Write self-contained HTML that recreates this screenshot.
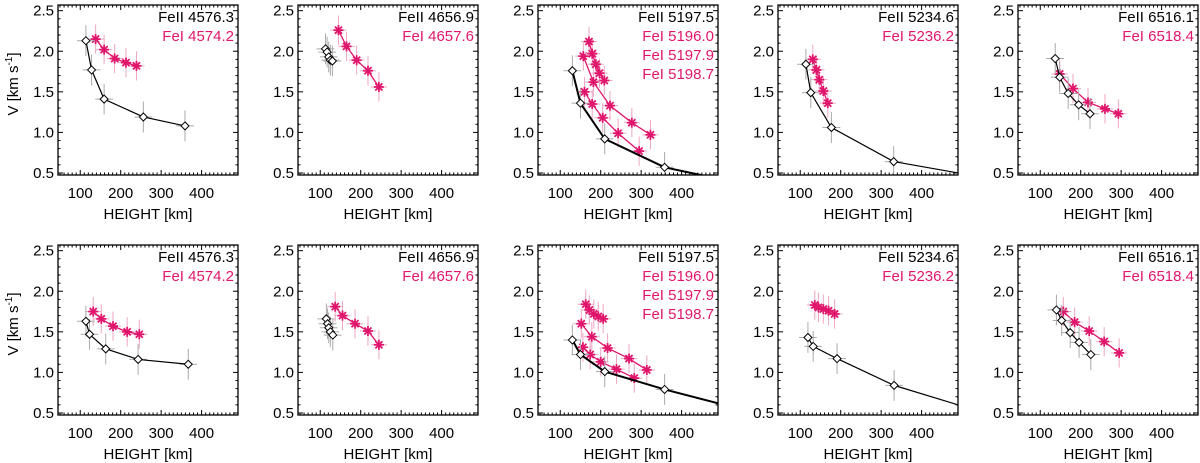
<!DOCTYPE html>
<html><head><meta charset="utf-8"><style>
body{margin:0;background:#fff;}
svg{display:block;font-family:"Liberation Sans",sans-serif;}
</style></head><body>
<svg id="fig" width="1200" height="463" viewBox="0 0 1200 463" xmlns="http://www.w3.org/2000/svg"></svg>
<script>
// ---- data (height km, velocity km/s) ----
const p1tBlackH=[114,128,159,256,359], p1tBlackV=[2.13,1.77,1.41,1.19,1.08];
const p1tPinkH=[138,159,185,213,239], p1tPinkV=[2.15,2.02,1.91,1.86,1.82];
const p2tBlackH=[113,117,121,125,130], p2tBlackV=[2.03,1.99,1.93,1.89,1.88];
const p2tPinkH=[145,165,190,218,245], p2tPinkV=[2.26,2.06,1.89,1.76,1.56];
const p3tBlackH=[130,150,210,358,490], p3tBlackV=[1.76,1.36,0.92,0.57,0.43];
const p3tPinkAH=[157,182,223,277,323], p3tPinkAV=[1.94,1.62,1.33,1.12,0.97];
const p3tPinkBH=[160,179,205,243,295], p3tPinkBV=[1.50,1.35,1.18,0.99,0.77];
const p3tPinkCH=[171,179,188,197,209], p3tPinkCV=[2.12,1.97,1.84,1.73,1.64];
const p4tBlackH=[114,126,177,331,490], p4tBlackV=[1.84,1.49,1.06,0.64,0.50];
const p4tPinkH=[131,140,147,157,168], p4tPinkV=[1.90,1.77,1.65,1.51,1.36];
const p5tBlackH=[137,148,169,195,223], p5tBlackV=[1.91,1.68,1.48,1.34,1.23];
const p5tPinkH=[148,181,218,260,293], p5tPinkV=[1.72,1.54,1.37,1.29,1.23];
const p1bBlackH=[114,123,163,243,367], p1bBlackV=[1.63,1.47,1.29,1.16,1.10];
const p1bPinkH=[132,152,181,216,246], p1bPinkV=[1.75,1.66,1.57,1.50,1.47];
const p2bBlackH=[115,118,121,125,131], p2bBlackV=[1.66,1.60,1.55,1.50,1.46];
const p2bPinkH=[137,155,186,218,245], p2bPinkV=[1.81,1.70,1.60,1.51,1.34];
const p3bBlackH=[130,150,210,358,490], p3bBlackV=[1.40,1.22,1.01,0.79,0.62];
const p3bPinkAH=[152,178,217,270,314], p3bPinkAV=[1.60,1.44,1.30,1.17,1.03];
const p3bPinkBH=[156,174,200,239,283], p3bPinkBV=[1.31,1.22,1.13,1.04,0.93];
const p3bPinkCH=[163,172,183,194,206], p3bPinkCV=[1.84,1.77,1.72,1.69,1.66];
const p4bBlackH=[119,132,191,332,490], p4bBlackV=[1.43,1.32,1.17,0.84,0.60];
const p4bPinkH=[136,145,157,170,185], p4bPinkV=[1.83,1.80,1.78,1.76,1.72];
const p5bBlackH=[140,153,174,196,225], p5bBlackV=[1.77,1.64,1.49,1.37,1.22];
const p5bPinkH=[157,185,221,258,295], p5bPinkV=[1.75,1.62,1.51,1.38,1.24];
const xTicks=[100,200,300,400];
const yTicks=[0.5,1.0,1.5,2.0,2.5];
const legends=[["4576.3","4574.2"],["4656.9","4657.6"],["5197.5","5196.0","5197.9","5198.7"],["5234.6","5236.2"],["6516.1","6518.4"]];

const PINK="#e0166c", PINKE="#eea6c4", GREYE="#aaaaaa";
const XMIN=45,XMAX=490,YMIN=0.475,YMAX=2.57,W=180,H=170;
const svg=document.getElementById('fig');
const NS="http://www.w3.org/2000/svg";
function mk(t,a,p){const e=document.createElementNS(NS,t);for(const k in a)e.setAttribute(k,a[k]);(p||svg).appendChild(e);return e;}

const panels=[
 {b:[p1tBlackH,p1tBlackV],p:[[p1tPinkH,p1tPinkV]]},
 {b:[p2tBlackH,p2tBlackV],p:[[p2tPinkH,p2tPinkV]]},
 {b:[p3tBlackH,p3tBlackV],p:[[p3tPinkAH,p3tPinkAV],[p3tPinkBH,p3tPinkBV],[p3tPinkCH,p3tPinkCV]],thick:true},
 {b:[p4tBlackH,p4tBlackV],p:[[p4tPinkH,p4tPinkV]]},
 {b:[p5tBlackH,p5tBlackV],p:[[p5tPinkH,p5tPinkV]]},
 {b:[p1bBlackH,p1bBlackV],p:[[p1bPinkH,p1bPinkV]]},
 {b:[p2bBlackH,p2bBlackV],p:[[p2bPinkH,p2bPinkV]]},
 {b:[p3bBlackH,p3bBlackV],p:[[p3bPinkAH,p3bPinkAV],[p3bPinkBH,p3bPinkBV],[p3bPinkCH,p3bPinkCV]],thick:true},
 {b:[p4bBlackH,p4bBlackV],p:[[p4bPinkH,p4bPinkV]],noPinkLine:true},
 {b:[p5bBlackH,p5bBlackV],p:[[p5bPinkH,p5bPinkV]]}
];

panels.forEach((pd,idx)=>{
 const col=idx%5,row=Math.floor(idx/5);
 const L=58+240*col,T=5+240*row;
 const xs=h=>L+(h-XMIN)/(XMAX-XMIN)*W;
 const ys=v=>T+(YMAX-v)/(YMAX-YMIN)*H;
 const g=mk('g',{});
 
 
 const cid='clip'+idx;
 const cp=mk('clipPath',{id:cid},g);mk('rect',{x:L,y:T,width:W,height:H},cp);
 for(let h=50;h<=490;h+=10){const x=xs(h);const mj=h%100===0;const len=mj?5:2.5;
  mk('line',{x1:x,y1:T+H,x2:x,y2:T+H-len,stroke:'#000','stroke-width':1},g);
  mk('line',{x1:x,y1:T,x2:x,y2:T+len,stroke:'#000','stroke-width':1},g);}
 for(let k=5;k<=25;k++){const v=k/10;const y=ys(v);const mj=k%5===0;const len=mj?5:2.5;
  mk('line',{x1:L,y1:y,x2:L+len,y2:y,stroke:'#000','stroke-width':1},g);
  mk('line',{x1:L+W,y1:y,x2:L+W-len,y2:y,stroke:'#000','stroke-width':1},g);}
 xTicks.forEach(t=>{const e=mk('text',{x:xs(t),y:T+H+23,'text-anchor':'middle','font-size':15,fill:'#000'},g);e.textContent=t;
  });
 yTicks.forEach(t=>{const e=mk('text',{x:L-4,y:ys(t)+5,'text-anchor':'end','font-size':15,fill:'#000'},g);e.textContent=t.toFixed(1);
  });
 const xt=mk('text',{x:L+W/2,y:T+H+44,'text-anchor':'middle','font-size':15,fill:'#000'},g);xt.textContent='HEIGHT [km]';
 
 if(col===0){const yt=mk('text',{x:0,y:0,'text-anchor':'middle','font-size':15,fill:'#000',transform:`translate(18,${T+H/2-6}) rotate(-90)`},g);
  yt.innerHTML='V [km s<tspan dy="-6" font-size="10">-1</tspan><tspan dy="6">]</tspan>';
  }
 const dg=mk('g',{'clip-path':`url(#${cid})`},g);
 pd.p.forEach(([hh,vv])=>{
  hh.forEach((h,i)=>{const x=xs(h),y=ys(vv[i]);
   mk('line',{x1:x,y1:ys(vv[i]+0.18),x2:x,y2:ys(vv[i]-0.18),stroke:PINKE,'stroke-width':1},dg);
   mk('line',{x1:xs(h-20),y1:y,x2:xs(h+20),y2:y,stroke:PINKE,'stroke-width':1},dg);});
  if(!pd.noPinkLine){const pl=mk('polyline',{points:hh.map((h,i)=>xs(h)+','+ys(vv[i])).join(' '),fill:'none',stroke:PINK,'stroke-width':1.3},dg);
   }
  hh.forEach((h,i)=>{const x=xs(h),y=ys(vv[i]);const s=mk('g',{},dg);
   
   for(let a=0;a<180;a+=45){const r=a*Math.PI/180;mk('line',{x1:x-5*Math.cos(r),y1:y-5*Math.sin(r),x2:x+5*Math.cos(r),y2:y+5*Math.sin(r),stroke:PINK,'stroke-width':1.8},s);}});
 });
 const [bh,bv]=pd.b;
 bh.forEach((h,i)=>{if(h>=480)return;const x=xs(h),y=ys(bv[i]);
  mk('line',{x1:x,y1:ys(bv[i]+0.19),x2:x,y2:ys(bv[i]-0.19),stroke:GREYE,'stroke-width':1},dg);
  mk('line',{x1:xs(h-22),y1:y,x2:xs(h+22),y2:y,stroke:GREYE,'stroke-width':1},dg);});
 const bl=mk('polyline',{points:bh.map((h,i)=>xs(h)+','+ys(bv[i])).join(' '),fill:'none',stroke:'#000','stroke-width':pd.thick?2:1.2},dg);
 
 bh.forEach((h,i)=>{if(h>=480)return;const x=xs(h),y=ys(bv[i]);
  const d=mk('polygon',{points:`${x},${y-4} ${x+4},${y} ${x},${y+4} ${x-4},${y}`,fill:'#fff',stroke:'#000','stroke-width':1},dg);
  });
 mk('rect',{x:L,y:T,width:W,height:H,fill:'none',stroke:'#000','stroke-width':1.3},g);
 const lg=legends[col];
 lg.forEach((w,i)=>{const e=mk('text',{x:L+W-4,y:T+17+19*i,'text-anchor':'end','font-size':15,fill:i===0?'#000':PINK,'xml:space':'preserve'},g);
  e.textContent=(i===0?'FeII ':'FeI   ')+w;
  });
});
</script>
</body></html>
